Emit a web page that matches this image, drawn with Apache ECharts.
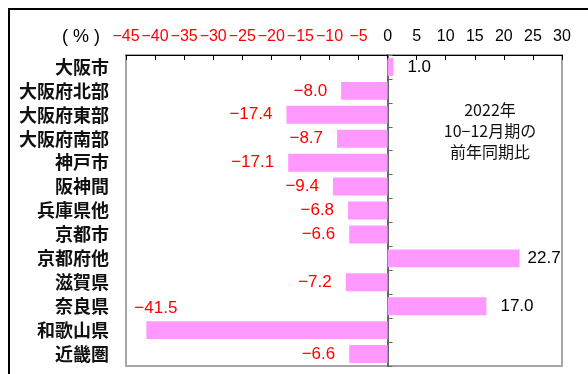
<!DOCTYPE html>
<html>
<head>
<meta charset="utf-8">
<style>
  html, body { margin: 0; padding: 0; background: #fff; }
  #chart { width: 588px; height: 374px; }
</style>
<script src="https://cdn.jsdelivr.net/npm/echarts@6/dist/echarts.min.js"></script>
</head>
<body>
<div id="chart"></div>
<script>
// Regions, top to bottom
const regions = ['大阪市', '大阪府北部', '大阪府東部', '大阪府南部', '神戸市', '阪神間',
  '兵庫県他', '京都市', '京都府他', '滋賀県', '奈良県', '和歌山県', '近畿圏'];
// Year-on-year change (%), Oct–Dec 2022
const changes = [1.0, -8.0, -17.4, -8.7, -17.1, -9.4, -6.8, -6.6, 22.7, -7.2, 17.0, -41.5, -6.6];
// Scale of the value axis
const axisMin = -45;
const axisMax = 30;
const axisStep = 5;

const JP = '"Noto Sans CJK JP", "Noto Sans CJK SC", sans-serif';
const NUM = '"Liberation Sans", Arial, sans-serif';

function fmtValue(v) {
  const s = Math.abs(v).toFixed(1);
  return v < 0 ? '\u2212' + s : s;
}

const barData = changes.map((v, i) => {
  const item = {
    value: v,
    label: {
      position: v < 0 ? 'left' : 'right',
      distance: 14,
      color: v < 0 ? '#ff0000' : '#000000'
    }
  };
  // longest bar: label sits above the bar
  if (regions[i] === '和歌山県') {
    item.label.position = 'insideLeft';
    item.label.distance = 0;
    item.label.offset = [-12, -22];
  }
  // bar close to the right edge: tighter label
  if (regions[i] === '京都府他') {
    item.label.distance = 8;
  }
  return item;
});

const chart = echarts.init(document.getElementById('chart'), null, { renderer: 'canvas' });

chart.setOption({
  animation: false,
  backgroundColor: '#ffffff',
  grid: {
    left: 126, top: 55, width: 436, height: 311,
    show: true, borderColor: '#a6a6a6', borderWidth: 2, backgroundColor: 'transparent'
  },
  xAxis: {
    type: 'value',
    position: 'top',
    min: axisMin, max: axisMax, interval: axisStep,
    splitLine: { show: false },
    axisLine: { show: true, lineStyle: { color: '#000', width: 1 } },
    axisTick: { show: true, inside: true, length: 5, lineStyle: { color: '#000' } },
    axisLabel: {
      margin: 10,
      formatter: v => v < 0 ? '{r|\u2212' + Math.abs(v) + '}' : '{k|' + v + '}',
      rich: {
        r: { color: '#ff0000', fontSize: 16, fontFamily: NUM },
        k: { color: '#000000', fontSize: 16, fontFamily: NUM }
      }
    }
  },
  yAxis: [
    {
      type: 'category',
      data: regions,
      inverse: true,
      axisLine: { show: false, onZero: false },
      axisTick: { show: false },
      axisLabel: { margin: 17, color: '#111', fontSize: 18, fontWeight: 'bold', fontFamily: JP }
    },
    {
      // zero line with category ticks
      type: 'category',
      data: regions,
      inverse: true,
      position: 'left',
      axisLine: { show: true, onZero: true, onZeroAxisIndex: 0, lineStyle: { color: '#666', width: 2 } },
      axisTick: { show: true, inside: true, length: 5, lineStyle: { color: '#666', width: 1 } },
      axisLabel: { show: false }
    }
  ],
  series: [{
    type: 'bar',
    yAxisIndex: 0,
    data: barData,
    barCategoryGap: '25%',
    itemStyle: { color: '#ff99ff' },
    label: {
      show: true,
      fontSize: 17,
      fontFamily: NUM,
      formatter: p => fmtValue(p.value)
    }
  }],
  graphic: [
    { type: 'rect', shape: { x: 8, y: 8, width: 2, height: 366 }, style: { fill: '#000' } },
    { type: 'rect', shape: { x: 8, y: 8, width: 580, height: 2 }, style: { fill: '#000' } },
    {
      type: 'text', x: 100, y: 37,
      style: { text: '( % )', fill: '#000', font: '18px ' + NUM, textAlign: 'right', textVerticalAlign: 'middle' }
    },
    {
      type: 'text', x: 490, y: 99,
      style: {
        text: '2022年\n10\u221212月期の\n前年同期比',
        fill: '#111', font: '16px ' + JP, lineHeight: 21,
        textAlign: 'center', textVerticalAlign: 'top'
      }
    }
  ]
});
</script>
</body>
</html>
